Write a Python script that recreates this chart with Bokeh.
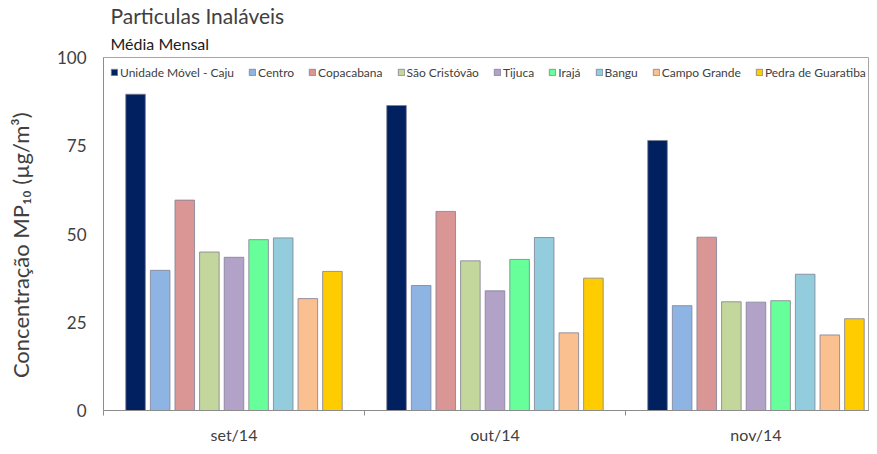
from bokeh.plotting import figure
from bokeh.models import (ColumnDataSource, FixedTicker, Title, Range1d, Legend)
from bokeh.transform import dodge
from bokeh.embed import file_html
from bokeh.resources import INLINE

months = ["set/14", "out/14", "nov/14"]
stations = ["Unidade Móvel - Caju", "Centro", "Copacabana", "São Cristóvão",
            "Tijuca", "Irajá", "Bangu", "Campo Grande", "Pedra de Guaratiba"]
caju = [89.6, 86.4, 76.5]
centro = [39.7, 35.4, 29.7]
copacabana = [59.6, 56.4, 49.1]
sao_cristovao = [44.9, 42.4, 30.8]
tijuca = [43.4, 33.9, 30.7]
iraja = [48.4, 42.8, 31.1]
bangu = [48.9, 49.0, 38.6]
campo_grande = [31.7, 22.0, 21.4]
pedra = [39.4, 37.5, 26.0]
series = [caju, centro, copacabana, sao_cristovao, tijuca, iraja, bangu,
          campo_grande, pedra]
colors = ["#002060", "#8EB4E3", "#D99694", "#C3D69B", "#B3A2C7", "#66FF99",
          "#93CDDD", "#FAC090", "#FFCC00"]

FONT = "Lato"
TXT = "#404040"

centers = [i + 0.5 for i in range(len(months))]
data = {"x": centers}
for k, s in enumerate(series):
    data[f"s{k}"] = s
source = ColumnDataSource(data)

p = figure(width=869, height=446, output_backend="svg", toolbar_location=None,
           x_range=Range1d(0, 2.935), y_range=Range1d(0, 100),
           min_border_left=103, min_border_right=0, min_border_top=57,
           min_border_bottom=33)

pitch = 0.0943
renderers = []
for k, (name, col) in enumerate(zip(stations, colors)):
    r = p.vbar(x=dodge("x", (k - 4) * pitch, range=p.x_range), top=f"s{k}",
               width=0.075, source=source, fill_color=col,
               line_color="#7f7f95", line_alpha=0.8, line_width=1)
    renderers.append((name, [r]))

legend = Legend(items=renderers, orientation="horizontal", location="top_left",
                glyph_width=8, glyph_height=8, label_standoff=2, spacing=14,
                padding=0, margin=7, border_line_color=None,
                background_fill_alpha=0, label_text_font=FONT,
                label_text_font_size="12px", label_text_color=TXT,
                label_height=16)
p.add_layout(legend, "center")

p.grid.visible = False
p.outline_line_color = "#a6a6a6"
p.background_fill_color = "white"

# y axis
p.yaxis.ticker = FixedTicker(ticks=[0, 25, 50, 75, 100])
p.yaxis.major_tick_line_color = None
p.yaxis.minor_tick_line_color = None
p.yaxis.major_tick_out = 0
p.yaxis.major_tick_in = 0
p.yaxis.major_label_standoff = 17
p.yaxis.major_label_text_font = FONT
p.yaxis.major_label_text_font_size = "17px"
p.yaxis.major_label_text_color = TXT
p.yaxis.axis_line_color = "#8c8c8c"
p.yaxis.axis_label = "Concentração MP₁₀ (µg/m³)\u00a0\u00a0\u00a0\u00a0"
p.yaxis.axis_label_text_font = FONT
p.yaxis.axis_label_text_font_size = "22px"
p.yaxis.axis_label_text_font_style = "normal"
p.yaxis.axis_label_text_color = TXT
p.yaxis.axis_label_standoff = 20

# x axis
p.xaxis.ticker = FixedTicker(ticks=centers, minor_ticks=[0, 1, 2, 3])
p.xaxis.major_label_overrides = {c: m for c, m in zip(centers, months)}
p.xaxis.major_tick_line_color = None
p.xaxis.major_tick_out = 0
p.xaxis.major_tick_in = 0
p.xaxis.minor_tick_out = 5
p.xaxis.minor_tick_in = 0
p.xaxis.minor_tick_line_color = "#8c8c8c"
p.xaxis.axis_line_color = "#8c8c8c"
p.xaxis.major_label_standoff = 9
p.xaxis.major_label_text_font = FONT
p.xaxis.major_label_text_font_size = "16px"
p.xaxis.major_label_text_color = TXT

sub = Title(text="Média Mensal", text_font=FONT, text_font_size="16px",
            text_font_style="normal", text_color="#202020", align="left",
            offset=7, standoff=10)
p.add_layout(sub, "above")
main = Title(text="Particulas Inaláveis", text_font=FONT, text_font_size="21px",
             text_font_style="normal", text_color=TXT, align="left",
             offset=7, standoff=-3)
p.add_layout(main, "above")

open("out.html", "w").write(file_html(p, INLINE))
